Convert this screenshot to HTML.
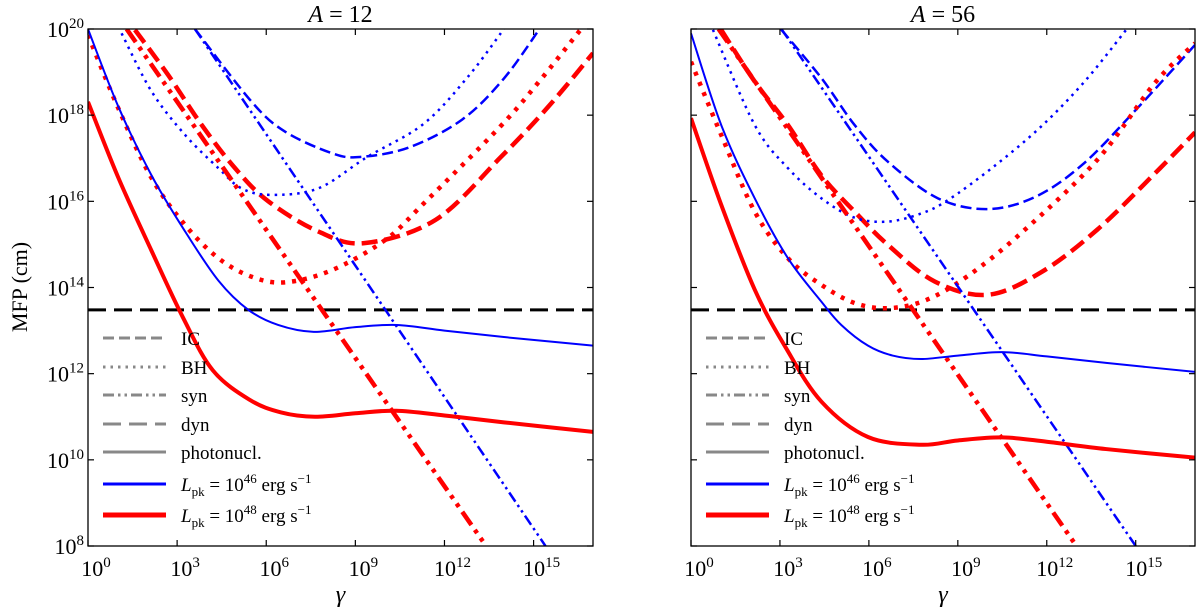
<!DOCTYPE html>
<html><head><meta charset="utf-8"><style>
html,body{margin:0;padding:0;background:#fff}
svg{display:block}
text{font-family:"Liberation Serif",serif;fill:#000}
</style></head><body>
<svg id="chart" width="1200" height="610" viewBox="0 0 1200 610" xmlns="http://www.w3.org/2000/svg">
<defs>
<clipPath id="clipL"><rect x="88" y="29" width="505" height="517"/></clipPath>
<clipPath id="clipR"><rect x="691" y="29" width="504" height="517"/></clipPath>
</defs>
</svg>
<script>
// ---- data (log10 gamma, log10 MFP in cm) ----
const xTicks = [0, 3, 6, 9, 12, 15];
const yTicks = [8, 10, 12, 14, 16, 18, 20];
const dynLevel = 13.48;
// A = 12
const a12PhotoBlueX = [0, 1.02, 2.14, 3.27, 4.39, 5.4, 6.4, 7.6, 9.0, 10.4, 12, 14, 17];
const a12PhotoBlueY = [20.0, 18.2, 16.6, 15.3, 14.16, 13.48, 13.13, 12.97, 13.08, 13.13, 13.0, 12.85, 12.65];
const a12PhotoRedX = [0, 1.02, 2.14, 3.2, 4.2, 5.45, 6.5, 7.64, 9.0, 10.37, 12, 14, 17];
const a12PhotoRedY = [18.31, 16.55, 14.85, 13.3, 12.08, 11.39, 11.1, 11.0, 11.08, 11.14, 11.03, 10.87, 10.65];
const a12BHBlueX = [1.13, 2.14, 3.27, 4.39, 5.17, 6.18, 7.75, 9.4, 11.3, 12.8, 14.0];
const a12BHBlueY = [19.9, 18.55, 17.54, 16.77, 16.3, 16.15, 16.3, 17.03, 17.8, 18.9, 20.0];
const a12BHRedX = [0, 1.02, 2.14, 3.27, 4.39, 5.51, 6.63, 8.2, 10.0, 11.3, 13.87, 15.15, 16.6];
const a12BHRedY = [19.86, 18.16, 16.54, 15.45, 14.68, 14.25, 14.12, 14.4, 15.1, 15.95, 17.73, 18.75, 20.0];
const a12ICBlueX = [3.6, 5.51, 6.63, 8.2, 9.15, 10.8, 12.6, 14.0, 15.2];
const a12ICBlueY = [20.0, 18.31, 17.62, 17.12, 17.03, 17.25, 17.9, 18.85, 20.0];
const a12ICRedX = [1.58, 2.7, 3.83, 4.95, 6.07, 7.75, 9.3, 11.7, 13.9, 15.5, 17];
const a12ICRedY = [19.98, 18.93, 17.77, 16.77, 16.0, 15.3, 15.03, 15.57, 17.03, 18.2, 19.44];
const a12SynBlueX = [3.6, 15.4];
const a12SynBlueY = [20, 8];
const a12SynRedX = [1.3, 13.4];
const a12SynRedY = [20, 8];
// A = 56
const a56PhotoBlueX = [0, 1.02, 2.15, 3.27, 4.4, 5.07, 5.97, 6.8, 7.76, 9.0, 10.5, 12, 14, 17];
const a56PhotoBlueY = [19.9, 17.77, 16.07, 14.68, 13.67, 13.13, 12.65, 12.42, 12.34, 12.42, 12.5, 12.4, 12.25, 12.04];
const a56PhotoRedX = [0, 1.02, 2.15, 3.2, 4.4, 5.97, 7.76, 9.0, 10.5, 12, 14, 17];
const a56PhotoRedY = [17.93, 15.92, 13.95, 12.6, 11.35, 10.53, 10.35, 10.45, 10.52, 10.42, 10.25, 10.05];
const a56BHBlueX = [0.74, 2.15, 3.27, 4.4, 5.52, 6.64, 7.77, 8.67, 10.2, 11.8, 13.3, 14.7];
const a56BHBlueY = [19.98, 17.77, 16.77, 16.07, 15.62, 15.53, 15.72, 16.03, 16.8, 17.73, 18.8, 20.0];
const a56BHRedX = [0, 1.02, 2.15, 3.27, 4.4, 5.52, 6.64, 7.9, 9.3, 11.13, 13.7, 15.65, 17];
const a56BHRedY = [19.24, 17.54, 15.76, 14.68, 14.06, 13.64, 13.52, 13.7, 14.25, 15.26, 16.96, 18.75, 19.67];
const a56ICBlueX = [3.05, 4.4, 5.52, 6.64, 8.33, 10.0, 11.6, 13.2, 15.0, 17];
const a56ICBlueY = [19.98, 18.86, 17.77, 16.92, 16.07, 15.82, 16.1, 16.85, 18.12, 19.63];
const a56ICRedX = [1.02, 2.15, 3.27, 4.4, 5.52, 6.64, 8.22, 10.0, 11.8, 13.7, 15.65, 17];
const a56ICRedY = [19.98, 18.78, 17.77, 16.6, 15.76, 14.99, 14.14, 13.83, 14.35, 15.34, 16.65, 17.6];
const a56SynBlueX = [3.05, 15.0];
const a56SynBlueY = [20, 8];
const a56SynRedX = [0.93, 13.0];
const a56SynRedY = [20, 8];

const NS = "http://www.w3.org/2000/svg";
const svg = document.getElementById("chart");
function mk(tag, attrs, parent) {
  const e = document.createElementNS(NS, tag);
  for (const k in attrs) e.setAttribute(k, attrs[k]);
  (parent || svg).appendChild(e);
  return e;
}
function makeAxes(x0, x1) {
  const y0 = 29, y1 = 546;
  return {
    x0, x1, y0, y1,
    sx: v => x0 + (v / 17) * (x1 - x0),
    sy: v => y0 + (20 - v) / 12 * (y1 - y0)
  };
}
function pathFrom(ax, xs, ys) {
  const pts = xs.map((x, i) => [ax.sx(x), ax.sy(ys[i])]);
  if (pts.length === 2) return `M${pts[0][0]},${pts[0][1]}L${pts[1][0]},${pts[1][1]}`;
  let d = `M${pts[0][0].toFixed(2)},${pts[0][1].toFixed(2)}`;
  for (let i = 0; i < pts.length - 1; i++) {
    const p0 = pts[Math.max(0, i - 1)], p1 = pts[i], p2 = pts[i + 1], p3 = pts[Math.min(pts.length - 1, i + 2)];
    const c1x = p1[0] + (p2[0] - p0[0]) / 6, c1y = p1[1] + (p2[1] - p0[1]) / 6;
    const c2x = p2[0] - (p3[0] - p1[0]) / 6, c2y = p2[1] - (p3[1] - p1[1]) / 6;
    d += `C${c1x.toFixed(2)},${c1y.toFixed(2)} ${c2x.toFixed(2)},${c2y.toFixed(2)} ${p2[0].toFixed(2)},${p2[1].toFixed(2)}`;
  }
  return d;
}
const styles = {
  photoBlue: {stroke: "#0000ff", w: 2, dash: ""},
  photoRed: {stroke: "#ff0000", w: 4, dash: ""},
  bhBlue: {stroke: "#0000ff", w: 2.5, dash: "2.5,5"},
  bhRed: {stroke: "#ff0000", w: 4.5, dash: "4,7"},
  icBlue: {stroke: "#0000ff", w: 2.5, dash: "11,5"},
  icRed: {stroke: "#ff0000", w: 4.5, dash: "16,7"},
  synBlue: {stroke: "#0000ff", w: 2.5, dash: "11,4,2.5,4,2.5,4"},
  synRed: {stroke: "#ff0000", w: 4.5, dash: "16,6,4,6,4,6"}
};
function drawPanel(ax, clipId, series, title, showYLabels, pname) {
  const g = mk("g", {"clip-path": `url(#${clipId})`});
  
  
  const dl = mk("line", {x1: ax.x0, x2: ax.x1, y1: ax.sy(dynLevel), y2: ax.sy(dynLevel), stroke: "#000", "stroke-width": 3, "stroke-dasharray": "18,8"}, g);
  
  
  series.forEach(s => {
    const st = styles[s.style];
    const p = mk("path", {d: pathFrom(ax, s.x, s.y), fill: "none", stroke: st.stroke, "stroke-width": st.w, "stroke-dasharray": st.dash}, g);
    
    
  });
  const fr = mk("rect", {x: ax.x0, y: ax.y0, width: ax.x1 - ax.x0, height: ax.y1 - ax.y0, fill: "none", stroke: "#000", "stroke-width": 1.3});
  
  
  xTicks.forEach(t => {
    const x = ax.sx(t);
    mk("line", {x1: x, x2: x, y1: ax.y1, y2: ax.y1 - 6, stroke: "#000", "stroke-width": 1.2});
    mk("line", {x1: x, x2: x, y1: ax.y0, y2: ax.y0 + 6, stroke: "#000", "stroke-width": 1.2});
    const tx = mk("text", {x: x + 8, y: 576, "font-size": 22, "text-anchor": "middle"});
    
    
    tx.innerHTML = `10<tspan dy="-9" font-size="15">${t}</tspan>`;
  });
  yTicks.forEach(t => {
    const y = ax.sy(t);
    mk("line", {x1: ax.x0, x2: ax.x0 + 6, y1: y, y2: y, stroke: "#000", "stroke-width": 1.2});
    mk("line", {x1: ax.x1, x2: ax.x1 - 6, y1: y, y2: y, stroke: "#000", "stroke-width": 1.2});
    if (showYLabels) {
      const ty = mk("text", {x: 84, y: y + 8, "font-size": 22, "text-anchor": "end"});
      
      
      ty.innerHTML = `10<tspan dy="-9" font-size="15">${t}</tspan>`;
    }
  });
  const tt = mk("text", {x: (ax.x0 + ax.x1) / 2, y: 22, "font-size": 24, "text-anchor": "middle"});
  
  
  tt.innerHTML = `<tspan font-style="italic">A</tspan> = ${title}`;
  const xl = mk("text", {x: (ax.x0 + ax.x1) / 2, y: 602, "font-size": 24, "text-anchor": "middle", "font-style": "italic"});
  
  
  xl.textContent = "γ";
  const lx = ax.x0 + 15, tx0 = ax.x0 + 93;
  const leg = [
    ["IC", "#888", 3, "11,5", 338],
    ["BH", "#888", 3, "2.5,5", 367],
    ["syn", "#888", 3, "11,4,2.5,4,2.5,4", 395],
    ["dyn", "#888", 3, "18,8", 424],
    ["photonucl.", "#888", 3, "", 452],
    ["L46", "#0000ff", 3, "", 484],
    ["L48", "#ff0000", 5, "", 515]
  ];
  leg.forEach(e => {
    const ln = mk("line", {x1: lx, x2: lx + 63, y1: e[4], y2: e[4], stroke: e[1], "stroke-width": e[2], "stroke-dasharray": e[3]});
    
    
    const t = mk("text", {x: tx0, y: e[4] + 7, "font-size": 19});
    
    
    if (e[0] === "L46" || e[0] === "L48") {
      t.innerHTML = `<tspan font-style="italic">L</tspan><tspan font-size="13" dy="5">pk</tspan><tspan dy="-5"> = 10</tspan><tspan font-size="13" dy="-8">${e[0].slice(1)}</tspan><tspan dy="8"> erg s</tspan><tspan font-size="13" dy="-8">−1</tspan>`;
    } else t.textContent = e[0];
  });
}
const axL = makeAxes(88, 593);
const axR = makeAxes(691, 1195);
drawPanel(axL, "clipL", [
  {name: "ic-46", style: "icBlue", x: a12ICBlueX, y: a12ICBlueY},
  {name: "ic-48", style: "icRed", x: a12ICRedX, y: a12ICRedY},
  {name: "bh-46", style: "bhBlue", x: a12BHBlueX, y: a12BHBlueY},
  {name: "bh-48", style: "bhRed", x: a12BHRedX, y: a12BHRedY},
  {name: "syn-46", style: "synBlue", x: a12SynBlueX, y: a12SynBlueY},
  {name: "syn-48", style: "synRed", x: a12SynRedX, y: a12SynRedY},
  {name: "photonucl-46", style: "photoBlue", x: a12PhotoBlueX, y: a12PhotoBlueY},
  {name: "photonucl-48", style: "photoRed", x: a12PhotoRedX, y: a12PhotoRedY}
], "12", true, "left-panel");
drawPanel(axR, "clipR", [
  {name: "ic-46", style: "icBlue", x: a56ICBlueX, y: a56ICBlueY},
  {name: "ic-48", style: "icRed", x: a56ICRedX, y: a56ICRedY},
  {name: "bh-46", style: "bhBlue", x: a56BHBlueX, y: a56BHBlueY},
  {name: "bh-48", style: "bhRed", x: a56BHRedX, y: a56BHRedY},
  {name: "syn-46", style: "synBlue", x: a56SynBlueX, y: a56SynBlueY},
  {name: "syn-48", style: "synRed", x: a56SynRedX, y: a56SynRedY},
  {name: "photonucl-46", style: "photoBlue", x: a56PhotoBlueX, y: a56PhotoBlueY},
  {name: "photonucl-48", style: "photoRed", x: a56PhotoRedX, y: a56PhotoRedY}
], "56", false, "right-panel");
const yl = mk("text", {x: 0, y: 0, "font-size": 22, "text-anchor": "middle", transform: "translate(27,287) rotate(-90)"});


yl.textContent = "MFP (cm)";
</script>
</body></html>
